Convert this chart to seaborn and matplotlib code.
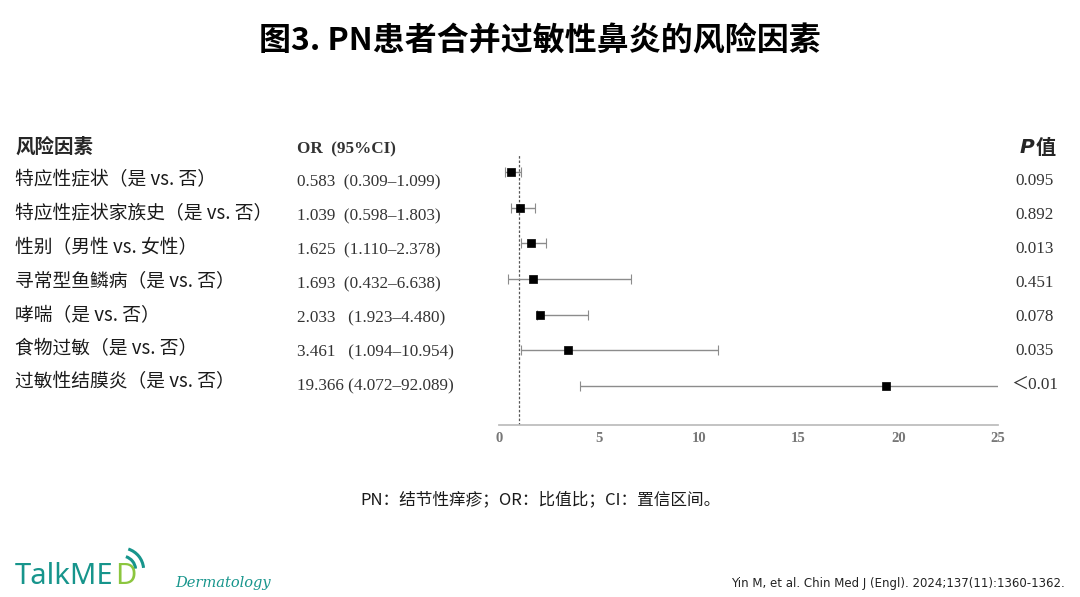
import numpy as np
import pandas as pd
import matplotlib
matplotlib.use("Agg")
import matplotlib.pyplot as plt
from matplotlib.patches import Arc
import seaborn as sns

# data
factors = ["特应性症状（是 vs. 否）", "特应性症状家族史（是 vs. 否）", "性别（男性 vs. 女性）",
           "寻常型鱼鳞病（是 vs. 否）", "哮喘（是 vs. 否）", "食物过敏（是 vs. 否）",
           "过敏性结膜炎（是 vs. 否）"]
odds = [0.583, 1.039, 1.625, 1.693, 2.033, 3.461, 19.366]
ci_low = [0.309, 0.598, 1.110, 0.432, 1.923, 1.094, 4.072]
ci_high = [1.099, 1.803, 2.378, 6.638, 4.480, 10.954, 92.089]
or_text = ["0.583  (0.309–1.099)", "1.039  (0.598–1.803)", "1.625  (1.110–2.378)",
           "1.693  (0.432–6.638)", "2.033   (1.923–4.480)", "3.461   (1.094–10.954)",
           "19.366 (4.072–92.089)"]
p_text = ["0.095", "0.892", "0.013", "0.451", "0.078", "0.035", "＜0.01"]
x_ticks = [0, 5, 10, 15, 20, 25]

df = pd.DataFrame({"factor": factors, "OR": odds, "lo": ci_low, "hi": ci_high})
df["row"] = np.arange(len(df))

sns.set_theme(style="white")
plt.rcParams["font.family"] = ["Noto Sans CJK SC", "DejaVu Sans"]
serif = ["Liberation Serif", "Noto Sans CJK SC"]

W, H = 1080, 597
fig = plt.figure(figsize=(10.8, 5.97), dpi=100)
ax = fig.add_axes([499 / W, 1 - 425 / H, (998 - 499) / W, (425 - 155) / H])

# confidence intervals
ax.errorbar(df["OR"], df["row"], xerr=[df["OR"] - df["lo"], df["hi"] - df["OR"]],
            fmt="none", ecolor="#8c8c8c", elinewidth=1.0, capsize=3.5, capthick=0.8)
sns.scatterplot(data=df, x="OR", y="row", marker="s", s=30, color="black",
                edgecolor="black", linewidth=0.5, ax=ax, zorder=3, legend=False)
ax.axvline(1, color="#555555", linestyle=(0, (2, 1.5)), linewidth=0.9, zorder=1)

ax.set_xlim(0, 25)
ax.set_ylim(7.1, -0.48)
ax.set_xticks(x_ticks)
ax.set_xticklabels([str(t) for t in x_ticks], fontfamily=serif, fontsize=10.5,
                   fontweight="bold", color="#777777")
ax.set_yticks([])
ax.set_xlabel("")
ax.set_ylabel("")
sns.despine(ax=ax, left=True)
ax.spines["bottom"].set_color("#bbbbbb")
ax.tick_params(axis="x", direction="in", length=3, color="#bbbbbb", pad=5)

# title
fig.text(0.5, 1 - 42 / H, "图3. PN患者合并过敏性鼻炎的风险因素", ha="center", va="center",
         fontsize=23, fontweight="bold", color="black")

# headers
fig.text(15 / W, 1 - 147 / H, "风险因素", ha="left", va="center", fontsize=14, fontweight="bold")
fig.text(297 / W, 1 - 149 / H, "OR  (95%CI)", ha="left", va="center", fontsize=12.3,
         fontweight="bold", fontfamily=serif, color="#333333")
fig.text(1020 / W, 1 - 147 / H, "P", ha="left", va="center", fontsize=14.5, fontweight="bold",
         fontstyle="italic", fontfamily=["DejaVu Sans"])
fig.text(1036 / W, 1 - 147 / H, "值", ha="left", va="center", fontsize=14.5, fontweight="bold")

# table columns
lab_y = np.linspace(180, 382, len(factors))
or_y = np.linspace(182, 386, len(factors))
p_y = np.linspace(181, 385, len(factors))
for i in range(len(factors)):
    fig.text(15 / W, 1 - lab_y[i] / H, factors[i], ha="left", va="center", fontsize=13.5,
             color="#1a1a1a")
    fig.text(297 / W, 1 - or_y[i] / H, or_text[i], ha="left", va="center", fontsize=12.3,
             fontfamily=serif, color="#333333")
    fig.text(1035 / W, 1 - p_y[i] / H, p_text[i], ha="center", va="center", fontsize=12.3,
             fontfamily=serif, color="#333333")

# footnote
fig.text(0.5, 1 - 500 / H, "PN：结节性痒疹；OR：比值比；CI：置信区间。", ha="center", va="center",
         fontsize=12, color="#1a1a1a")

# logo and citation
logo = fig.text(15 / W, 1 - 577 / H, "TalkME", ha="left", va="center", fontsize=21,
                color="#17958c", fontfamily=["Noto Sans"])
fig.canvas.draw()
bb = logo.get_window_extent()
fig.text((bb.x1 + 1) / W, 1 - 577 / H, "D", ha="left", va="center", fontsize=21,
         color="#8cc63f", fontfamily=["Noto Sans"])
for r, lw in [(14, 2.2), (22, 2.2)]:
    fig.patches.append(Arc(((bb.x1 + 8) / W, 1 - 570 / H), 2 * r / W, 2 * r / H, theta1=10,
                           theta2=80, color="#17958c", lw=lw, transform=fig.transFigure))
fig.text(175 / W, 1 - 583 / H, "Dermatology", ha="left", va="center", fontsize=10.5,
         color="#17958c", fontstyle="italic", fontfamily=["DejaVu Serif"])
fig.text(1065 / W, 1 - 583 / H, "Yin M, et al. Chin Med J (Engl). 2024;137(11):1360-1362.",
         ha="right", va="center", fontsize=8.5, color="#222222",
         fontfamily=["Liberation Sans Narrow", "DejaVu Sans"])

fig.savefig("out.png", dpi=100, facecolor="white")
